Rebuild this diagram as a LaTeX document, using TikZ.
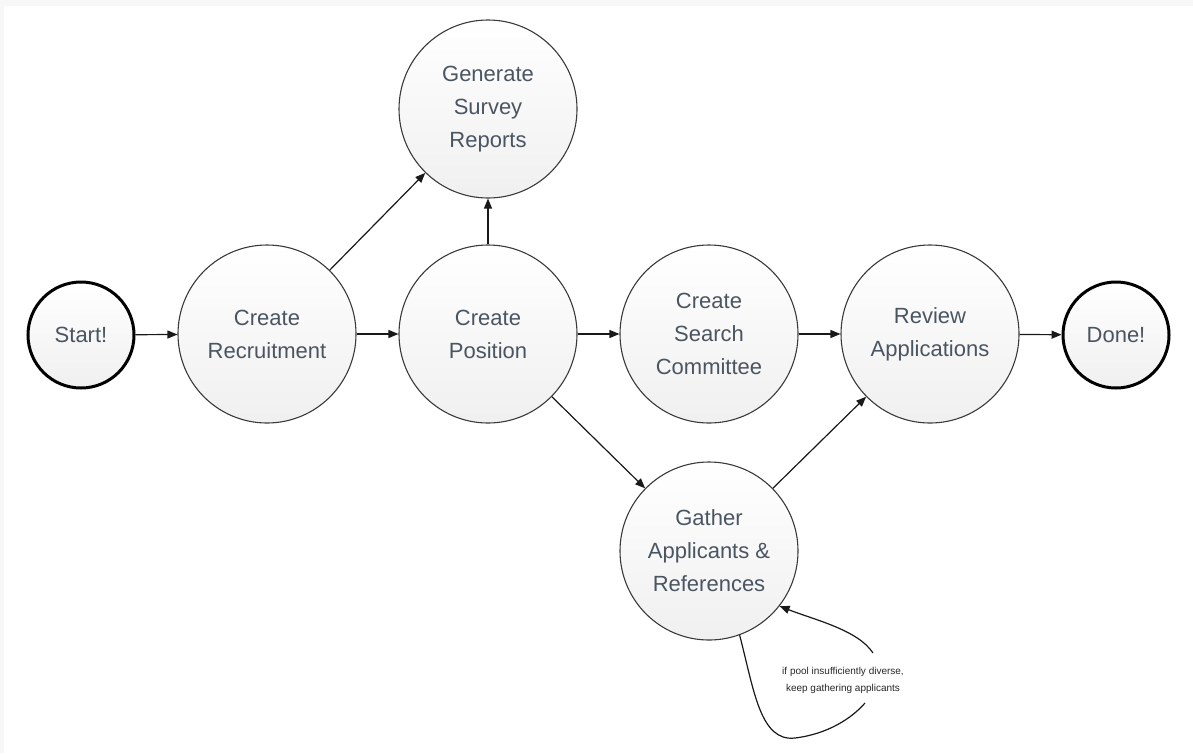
\documentclass[tikz,border=0pt]{standalone}
\usepackage{fontspec}
\setmainfont{Liberation Sans}
\usetikzlibrary{arrows.meta,shadings}
\definecolor{txt}{HTML}{4A5562}
\definecolor{rim}{HTML}{3A3A3A}
\tikzset{
  stage/.style={circle, draw=rim, line width=1.1pt, minimum size=178pt, inner sep=0pt,
    top color=white, bottom color=black!6, text=txt, align=center,
    font=\fontsize{22}{33}\selectfont},
  term/.style={circle, draw=black, line width=3pt, minimum size=106pt, inner sep=0pt,
    top color=white, bottom color=black!6, text=txt, align=center,
    font=\fontsize{22}{33}\selectfont},
  arr/.style={-{Triangle[length=10pt,width=8pt]}, line width=1.2pt, draw=black!90},
  plain/.style={line width=1.2pt, draw=black!90},
  note/.style={align=center, text=black!85, font=\fontsize{10}{17}\selectfont, inner sep=0pt}
}
\begin{document}
\begin{tikzpicture}[x=1pt,y=-1pt]
\useasboundingbox (0,0) rectangle (1193,753);
\fill[black!3] (0,0) rectangle (1193,6);
\fill[black!3] (0,0) rectangle (4,753);
\node[term]  (start) at (81,335)  {Start!};
\node[stage] (rec)   at (267,334) {Create\\Recruitment};
\node[stage] (gen)   at (488,109) {Generate\\Survey\\Reports};
\node[stage] (pos)   at (488,334) {Create\\Position};
\node[stage] (sc)    at (709,334) {Create\\Search\\Committee};
\node[stage] (rev)   at (930,334) {Review\\Applications};
\node[term]  (done)  at (1116,335) {Done!};
\node[stage] (gath)  at (709,551) {Gather\\Applicants \&\\References};
\node[note]  (lab)   at (843,680) {if pool insufficiently diverse,\\keep gathering applicants};
\coordinate (la) at (865,703);
\coordinate (lb) at (873,653);

\draw[arr] (start) -- (rec);
\draw[arr] (rec) -- (pos);
\draw[arr] (rec) -- (gen);
\draw[arr] (pos) -- (gen);
\draw[arr] (pos) -- (sc);
\draw[arr] (sc) -- (rev);
\draw[arr] (rev) -- (done);
\draw[arr] (pos) -- (gath);
\draw[arr] (gath) -- (rev);
\draw[plain] (gath.-70) .. controls (754,690) and (760,742) .. (795,738)
   .. controls (828,734) and (852,718) .. (la);
\draw[arr] (lb) .. controls (858,630) and (815,620) .. (gath.-38);
\end{tikzpicture}
\end{document}
